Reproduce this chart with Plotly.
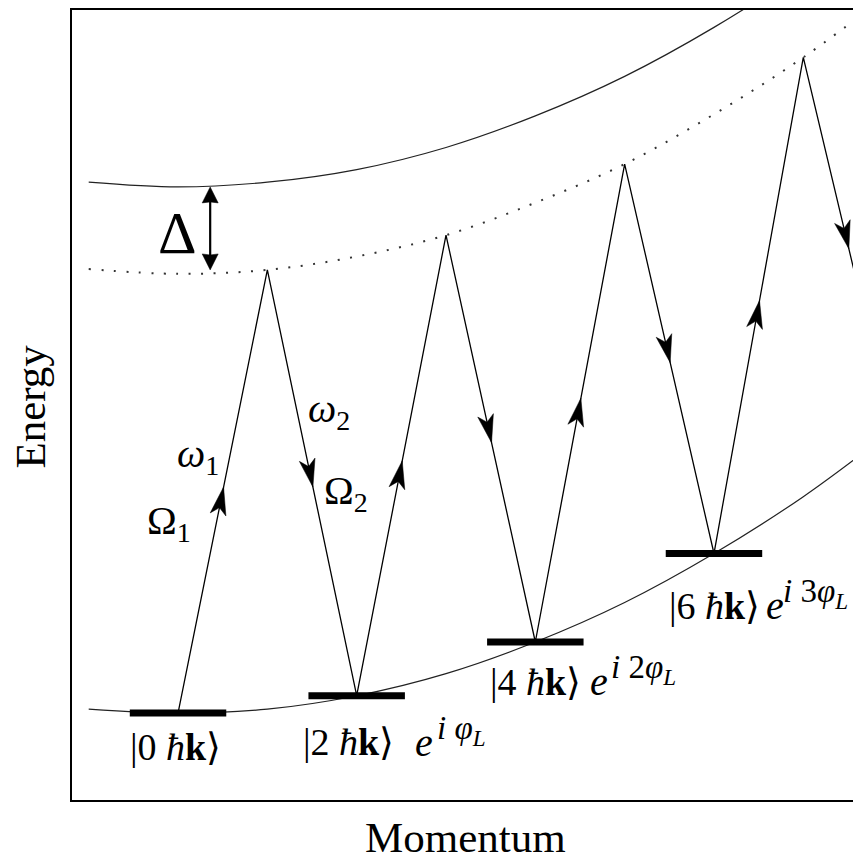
import numpy as np
import plotly.graph_objects as go

# ---------------- data ----------------
# momentum in units of ħk, energy in arbitrary units
level_momentum = [0, 2, 4, 6, 8]
level_energy = [11.0, 13.2, 20.0, 31.2, 46.5]
level_kets = ["|0 <i>ħ</i><b>k</b>⟩", "|2 <i>ħ</i><b>k</b>⟩", "|4 <i>ħ</i><b>k</b>⟩", "|6 <i>ħ</i><b>k</b>⟩"]
level_phases = ["", "<i>i</i> <i>φ</i><sub><i>L</i></sub>",
                "<i>i</i> 2<i>φ</i><sub><i>L</i></sub>", "<i>i</i> 3<i>φ</i><sub><i>L</i></sub>"]
virtual_momentum = [1, 3, 5, 7]
virtual_energy = [67.1, 71.5, 80.5, 94.0]

curve_momentum = [-1, 0, 1, 2, 3, 4, 5, 6, 7, 8]
ground_curve = [11.5, 11.0, 11.5, 13.2, 16.0, 20.0, 25.0, 31.2, 38.4, 46.8]
virtual_curve = [67.2, 66.6, 67.1, 68.8, 71.5, 75.6, 80.5, 86.8, 94.0, 102.4]
excited_curve = [78.2, 77.6, 78.2, 79.8, 82.6, 86.6, 91.6, 97.8, 105.0, 113.0]

delta_momentum = 0.36
delta_top = 77.6
delta_bottom = 67.1

# ---------------- layout geometry ----------------
# the page body adds an 8px offset, so the figure is 8px smaller than the window
W_FIG, H_FIG = 853, 852
M_L, M_R, M_T, M_B = 64, 0, 0, 60
X_RANGE = [-1.187, 7.646]
Y_RANGE = [0, 100]
SX = (W_FIG - M_L - M_R) / (X_RANGE[1] - X_RANGE[0])
SY = (H_FIG - M_T - M_B) / (Y_RANGE[1] - Y_RANGE[0])

FONT = "Liberation Serif"
fig = go.Figure()

# dispersion curves
fig.add_trace(go.Scatter(x=curve_momentum, y=excited_curve, mode="lines",
                         line=dict(color="#222", width=1.2, shape="spline"),
                         hoverinfo="skip", showlegend=False))
fig.add_trace(go.Scatter(x=curve_momentum, y=virtual_curve, mode="lines",
                         line=dict(color="#333", width=2, shape="spline", dash="2px,10.5px"),
                         hoverinfo="skip", showlegend=False))
fig.add_trace(go.Scatter(x=curve_momentum, y=ground_curve, mode="lines",
                         line=dict(color="#222", width=1.2, shape="spline"),
                         hoverinfo="skip", showlegend=False))

# zig-zag transitions
zx, zy = [], []
for i in range(len(virtual_momentum)):
    zx += [level_momentum[i], virtual_momentum[i]]
    zy += [level_energy[i], virtual_energy[i]]
zx.append(level_momentum[len(virtual_momentum)])
zy.append(level_energy[len(virtual_momentum)])
fig.add_trace(go.Scatter(x=zx, y=zy, mode="lines",
                         line=dict(color="black", width=1.3),
                         hoverinfo="skip", showlegend=False))


def head(x0, y0, x1, y1, frac=0.51, L=28, Wd=16, notch=7):
    dx, dy = (x1 - x0) * SX, (y1 - y0) * SY
    ln = np.hypot(dx, dy)
    ux, uy = dx / ln, dy / ln
    nx, ny = -uy, ux
    tx, ty = x0 * SX + frac * dx, y0 * SY + frac * dy
    pts = [
        (tx, ty),
        (tx - L * ux + Wd / 2 * nx, ty - L * uy + Wd / 2 * ny),
        (tx - (L - notch) * ux, ty - (L - notch) * uy),
        (tx - L * ux - Wd / 2 * nx, ty - L * uy - Wd / 2 * ny),
        (tx, ty),
    ]
    return [p[0] / SX for p in pts], [p[1] / SY for p in pts]


for i in range(len(zx) - 1):
    hx, hy = head(zx[i], zy[i], zx[i + 1], zy[i + 1])
    fig.add_trace(go.Scatter(x=hx, y=hy, mode="lines", fill="toself",
                             fillcolor="black", line=dict(color="black", width=0.5),
                             hoverinfo="skip", showlegend=False))

# energy levels (bars)
for k, e in zip(level_momentum[:4], level_energy[:4]):
    fig.add_trace(go.Scatter(x=[k - 0.54, k + 0.54], y=[e, e], mode="lines",
                             line=dict(color="black", width=7),
                             hoverinfo="skip", showlegend=False))

# Delta double arrow
fig.add_trace(go.Scatter(x=[delta_momentum, delta_momentum], y=[delta_bottom + 1.2, delta_top - 1.2],
                         mode="lines", line=dict(color="black", width=2.2),
                         hoverinfo="skip", showlegend=False))
for a, b in [(delta_bottom, delta_top), (delta_top, delta_bottom)]:
    hx, hy = head(delta_momentum, a, delta_momentum, b, frac=1.0, L=16, Wd=16, notch=1)
    fig.add_trace(go.Scatter(x=hx, y=hy, mode="lines", fill="toself",
                             fillcolor="black", line=dict(color="black", width=0.5),
                             hoverinfo="skip", showlegend=False))

ann = []
# (ket x, e x, exponent x, y)
label_pos = [(-0.56, None, None, 6.7), (1.38, 2.63, 2.88, 7.3),
             (3.47, 4.59, 4.82, 15.0), (5.47, 6.56, 6.75, 24.6)]
for (kx, ex, px, ly), ket, ph in zip(label_pos, level_kets, level_phases):
    ann.append(dict(x=kx, y=ly, text=ket, showarrow=False, xanchor="left", yanchor="middle",
                    font=dict(family=FONT, size=38, color="black")))
    if ph:
        ann.append(dict(x=ex, y=ly, text="<i>e</i>", showarrow=False, xanchor="left", yanchor="middle",
                        font=dict(family=FONT, size=40, color="black")))
        ann.append(dict(x=px, y=ly + 1.5, text=ph, showarrow=False, xanchor="left", yanchor="middle",
                        font=dict(family=FONT, size=33, color="black")))

greek = [
    (0.224, 43.5, "<i>ω</i><sub>1</sub>"),
    (-0.10, 35.1, "Ω<sub>1</sub>"),
    (1.69, 49.2, "<i>ω</i><sub>2</sub>"),
    (1.88, 38.8, "Ω<sub>2</sub>"),
]
for gx, gy, t in greek:
    ann.append(dict(x=gx, y=gy, text=t, showarrow=False, xanchor="center", yanchor="middle",
                    font=dict(family=FONT, size=40, color="black")))
ann.append(dict(x=-0.01, y=71.8, text="Δ", showarrow=False, xanchor="center", yanchor="middle",
                font=dict(family=FONT, size=60, color="black")))

# axis titles
ann.append(dict(x=0.499, y=-0.048, xref="paper", yref="paper", text="Momentum", showarrow=False,
                xanchor="center", yanchor="middle", font=dict(family=FONT, size=43, color="black")))
ann.append(dict(x=-0.052, y=0.498, xref="paper", yref="paper", text="Energy", showarrow=False,
                textangle=-90, xanchor="center", yanchor="middle",
                font=dict(family=FONT, size=43, color="black")))

fig.update_layout(
    width=W_FIG, height=H_FIG,
    margin=dict(l=M_L, r=M_R, t=M_T, b=M_B),
    paper_bgcolor="white", plot_bgcolor="white",
    annotations=ann, showlegend=False,
)
fig.update_xaxes(range=X_RANGE, showgrid=False, zeroline=False, showticklabels=False, ticks="",
                 showline=True, linecolor="black", linewidth=1.5, mirror=True)
fig.update_yaxes(range=Y_RANGE, showgrid=False, zeroline=False, showticklabels=False, ticks="",
                 showline=True, linecolor="black", linewidth=1.5, mirror=False)

fig.write_html("out.html")
